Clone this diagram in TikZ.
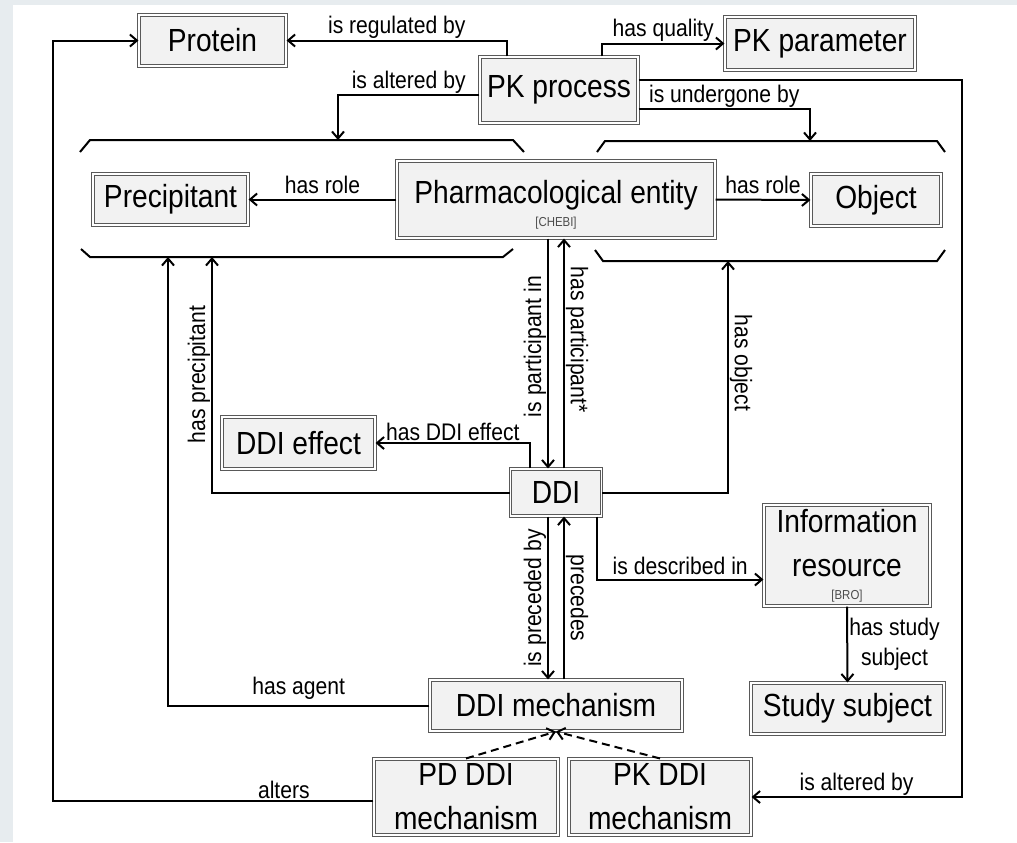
\documentclass[tikz,border=0pt]{standalone}
\usepackage{fontspec}
\setmainfont{Liberation Sans}[FakeStretch=0.88]
\usetikzlibrary{arrows.meta}
\definecolor{rand}{rgb}{0.906,0.925,0.937}
\definecolor{kasten}{rgb}{0.95,0.95,0.95}
\definecolor{rahmen}{rgb}{0.35,0.35,0.35}
\newcommand{\quelle}[1]{{\fontsize{6.5}{7}\selectfont\color{black!70}#1}}

\begin{document}
\begin{tikzpicture}[x=0.5pt, y=-0.5pt, line width=1pt, >={Straight Barb[length=3.5pt,width=6pt]},
  concept/.style={draw=rahmen, double=white, double distance=0.8pt, line width=0.55pt, fill=kasten,
    inner sep=0pt, align=center, font=\fontsize{16}{22}\selectfont},
  lab/.style={font=\fontsize{12}{15}\selectfont, inner sep=0.5pt}]
% background
\fill[rand] (0,0) rectangle (1017,842);
\fill[white] (13,5) rectangle (1017,842);
% concepts
\node[concept, minimum width=73.5pt, minimum height=25.5pt] (prot) at (212.5,40.5) {Protein};
\node[concept, minimum width=79pt, minimum height=33pt] (pkp) at (559,90) {PK process};
\node[concept, minimum width=95pt, minimum height=26.5pt] (pkpar) at (820,43.5) {PK parameter};
\node[concept, minimum width=77.5pt, minimum height=25.5pt] (prec) at (170.5,199.5) {Precipitant};
\node[concept, minimum width=159pt, minimum height=38.5pt] (pharm) at (556,199.5)
  {\rule{0pt}{16.5pt}Pharmacological entity\\[-10.5pt]\quelle{[CHEBI]}};
\node[concept, minimum width=65pt, minimum height=26pt] (obj) at (876,200) {Object};
\node[concept, minimum width=76.5pt, minimum height=26pt] (eff) at (298.5,443) {DDI effect};
\node[concept, minimum width=45.5pt, minimum height=23.5pt] (ddi) at (556,492.5) {DDI};
\node[concept, minimum width=83pt, minimum height=50.5pt] (info) at (847,555.5)
  {Information\\[0pt]resource\\[-10.5pt]\quelle{[BRO]}};
\node[concept, minimum width=96.5pt, minimum height=25.5pt] (subj) at (847.5,708.5) {Study subject};
\node[concept, minimum width=126pt, minimum height=25.5pt] (mech) at (556,705.5) {DDI mechanism};
\node[concept, minimum width=92pt, minimum height=38pt] (pd) at (466,797) {PD DDI\\mechanism};
\node[concept, minimum width=91pt, minimum height=38pt] (pkm) at (660,797) {PK DDI\\mechanism};
% role groups
\draw (80,152) -- (90,140) -- (513,140) -- (524,152);
\draw (81,249) -- (90,257) -- (503,257) -- (513,249);
\draw (597,152) -- (605,141) -- (937,141) -- (945,152);
\draw (595,250) -- (603,261) -- (937,261) -- (945,250);
\coordinate (lgtop) at (338,140);
\coordinate (rgtop) at (810,141);
\coordinate (lgbot1) at (168,257);
\coordinate (lgbot2) at (212,257);
\coordinate (rgbot) at (728,261);
% relations
\draw[->] ([xshift=-26pt]pkp.north) |- (prot.east) node[pos=0.75, above, lab] {is regulated by};
\draw[->] ([xshift=21.5pt]pkp.north) |- (pkpar.west) node[pos=0.75, above, lab] {has quality};
\draw[->] ([yshift=-2.5pt]pkp.west) -| (lgtop) node[pos=0.25, above, lab] {is altered by};
\draw[->] ([yshift=-9.5pt]pkp.east) -| (rgtop) node[pos=0.25, above, lab] {is undergone by};
\draw[->] ([yshift=5pt]pkp.east) -- ++(323,0) |- (pkm.east) node[pos=0.75, above, lab] {is altered by};
\draw[->] (pharm.west) -- (prec.east) node[midway, above=2pt, lab] {has role};
\draw[->] (pharm.east) -- (obj.west) node[midway, above=2pt, lab] {has role};
\draw[->] ([xshift=-4pt]pharm.south) -- ([xshift=-4pt]ddi.north)
  node[pos=0.47, rotate=90, anchor=south, lab] {is participant in};
\draw[->] ([xshift=4pt]ddi.north) -- ([xshift=4pt]pharm.south)
  node[pos=0.56, rotate=-90, anchor=south, lab] {has participant*};
\draw[->] ([xshift=-13pt]ddi.north) |- (eff.east) node[pos=0.75, above, lab] {has DDI effect};
\draw[->] (ddi.west) -| (lgbot2) node[pos=0.75, rotate=90, anchor=south, lab] {has precipitant};
\draw[->] (ddi.east) -| (rgbot) node[pos=0.78, rotate=-90, anchor=south, lab] {has object};
\draw[->] (mech.west) -| (lgbot1) node[pos=0.25, above=2pt, lab] {has agent};
\draw[->] ([yshift=-2pt]pd.west) -- node[pos=0.28, above, lab] {alters} ++(-320,0) |- (prot.west);
\draw[->] ([xshift=-4pt]ddi.south) -- ([xshift=-4pt]mech.north)
  node[midway, rotate=90, anchor=south, lab] {is preceded by};
\draw[->] ([xshift=4pt]mech.north) -- ([xshift=4pt]ddi.south)
  node[midway, rotate=-90, anchor=south, lab] {precedes};
\draw[->] ([xshift=20.5pt]ddi.south) |- ([yshift=-12pt]info.west) node[pos=0.75, above=1.5pt, lab] {is described in};
\draw[->] (info.south) -- (subj.north) node[midway, right, lab, align=center] {has study\\subject};
% subclasses
\draw[->, dash pattern=on 4pt off 2.5pt] (pd.north) -- (mech.south);
\draw[->, dash pattern=on 4pt off 2.5pt] (pkm.north) -- (mech.south);
\end{tikzpicture}
\end{document}
